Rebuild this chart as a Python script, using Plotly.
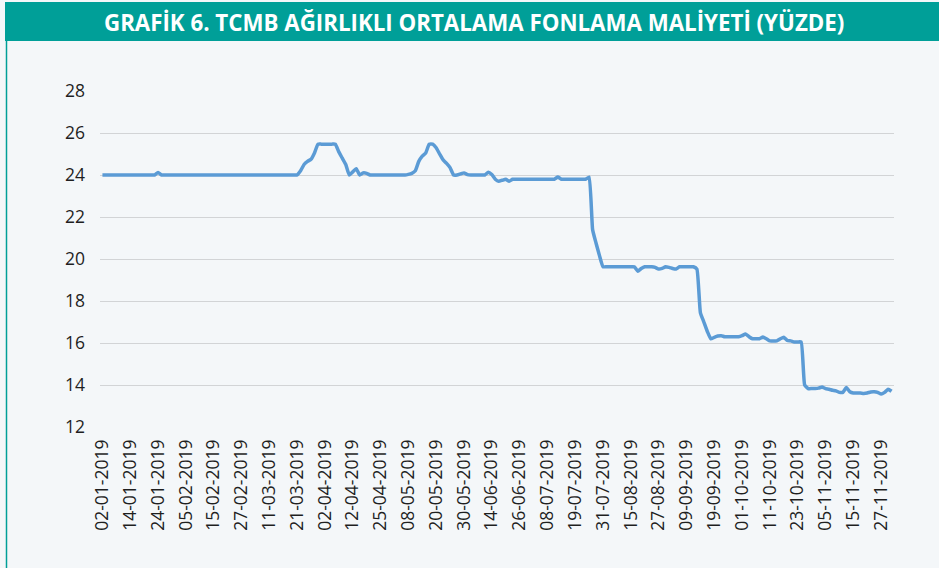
import plotly.graph_objects as go
import pandas as pd

# ---------------- data ----------------
HOLIDAYS = ["2019-01-01", "2019-04-23", "2019-05-01", "2019-06-05", "2019-06-06",
            "2019-06-07", "2019-07-15", "2019-08-12", "2019-08-13", "2019-08-14",
            "2019-08-30", "2019-10-29"]

jan = [24.0, 24.0, 24.0, 24.0, 24.0, 24.0, 24.0, 24.0, 24.0, 24.0, 24.0, 24.0,
       24.0, 24.0, 24.0, 24.0, 24.12, 24.0, 24.0, 24.0, 24.0, 24.0]
feb = [24.0, 24.0, 24.0, 24.0, 24.0, 24.0, 24.0, 24.0, 24.0, 24.0, 24.0, 24.0,
       24.0, 24.0, 24.0, 24.0, 24.0, 24.0, 24.0, 24.0]
mar = [24.0, 24.0, 24.0, 24.0, 24.0, 24.0, 24.0, 24.0, 24.0, 24.0, 24.0, 24.0,
       24.0, 24.0, 24.0, 24.2, 24.5, 24.65, 24.75, 25.05, 25.47]
apr = [25.47, 25.47, 25.47, 25.47, 25.47, 25.1, 24.8, 24.5, 24.0, 24.15, 24.3,
       24.0, 24.1, 24.08, 24.0, 24.0, 24.0, 24.0, 24.0, 24.0, 24.0]
may = [24.0, 24.0, 24.0, 24.0, 24.03, 24.08, 24.2, 24.65, 24.9, 25.05, 25.47,
       25.47, 25.3, 25.0, 24.72, 24.55, 24.35, 24.0, 24.0, 24.05, 24.1, 24.02]
jun = [24.0, 24.0, 24.0, 24.0, 24.0, 24.13, 24.02, 23.8, 23.7, 23.75, 23.8, 23.7,
       23.8, 23.8, 23.8, 23.8, 23.8]
jul = [23.8, 23.8, 23.8, 23.8, 23.8, 23.8, 23.8, 23.8, 23.9, 23.8, 23.8, 23.8,
       23.8, 23.8, 23.8, 23.8, 23.8, 23.9, 21.4, 20.75, 20.15, 19.63]
aug = [19.63, 19.63, 19.63, 19.63, 19.63, 19.63, 19.63, 19.63, 19.63, 19.42,
       19.55, 19.63, 19.63, 19.63, 19.6, 19.52, 19.55, 19.63]
sep = [19.6, 19.55, 19.52, 19.63, 19.63, 19.63, 19.63, 19.63, 19.52, 17.45, 17.0,
       16.55, 16.2, 16.27, 16.33, 16.35, 16.3, 16.3, 16.3, 16.3, 16.3]
oct_ = [16.35, 16.43, 16.3, 16.2, 16.2, 16.2, 16.28, 16.2, 16.1, 16.1, 16.1, 16.2,
        16.27, 16.12, 16.1, 16.05, 16.05, 16.05, 14.0, 13.83, 13.83, 13.83]
nov = [13.85, 13.9, 13.83, 13.8, 13.75, 13.72, 13.65, 13.65, 13.88, 13.68, 13.62,
       13.62, 13.62, 13.6, 13.62, 13.67, 13.68, 13.65, 13.57, 13.65, 13.8]
dec = [13.7]

TICK_LABELS = ["02-01-2019", "14-01-2019", "24-01-2019", "05-02-2019", "15-02-2019",
               "27-02-2019", "11-03-2019", "21-03-2019", "02-04-2019", "12-04-2019",
               "25-04-2019", "08-05-2019", "20-05-2019", "30-05-2019", "14-06-2019",
               "26-06-2019", "08-07-2019", "19-07-2019", "31-07-2019", "15-08-2019",
               "27-08-2019", "09-09-2019", "19-09-2019", "01-10-2019", "11-10-2019",
               "23-10-2019", "05-11-2019", "15-11-2019", "27-11-2019"]
Y_TICKS = [12, 14, 16, 18, 20, 22, 24, 26, 28]
TITLE = "GRAFİK 6. TCMB AĞIRLIKLI ORTALAMA FONLAMA MALİYETİ (YÜZDE)"

days = pd.bdate_range("2019-01-02", "2019-12-02", freq="C", holidays=HOLIDAYS)
dates = [d.strftime("%d-%m-%Y") for d in days]
values = jan + feb + mar + apr + may + jun + jul + aug + sep + oct_ + nov + dec

# ---------------- layout helpers ----------------
W, H = 939, 568
L, R, T, B = 100, 45, 91, 141
TEAL = "#009F98"
BG = "#F4F7F9"


def px_x(p):
    return (p - L) / (W - L - R)


def px_y(p):
    return (H - B - p) / (H - T - B)


fig = go.Figure()
fig.add_trace(go.Scatter(
    x=dates, y=values, mode="lines",
    line=dict(color="#5B9BD5", width=3.5, shape="spline", smoothing=0.4),
    hoverinfo="x+y", showlegend=False, cliponaxis=False,
))

tickfont = dict(family="Open Sans, Noto Sans, sans-serif", size=17.5, color="#1F1F1F")

fig.update_layout(
    width=W, height=H,
    margin=dict(l=L, r=R, t=T, b=B, autoexpand=False),
    paper_bgcolor=BG, plot_bgcolor=BG,
    xaxis=dict(
        type="category", range=[-0.7, len(dates) - 1 + 0.7],
        tickmode="array", tickvals=TICK_LABELS, ticktext=TICK_LABELS,
        tickangle=-90, tickfont=tickfont, showgrid=False, showline=False,
        zeroline=False, ticks="", ticklabelstandoff=8, fixedrange=True,
    ),
    yaxis=dict(
        range=[12, 28], tickmode="array", tickvals=Y_TICKS,
        ticktext=[str(v) for v in Y_TICKS], tickfont=tickfont,
        showgrid=True, gridcolor="#D2D4D6", gridwidth=1.3,
        zeroline=False, showline=False, ticks="", ticklabelstandoff=14,
        fixedrange=True,
    ),
    shapes=[
        dict(type="rect", xref="paper", yref="paper",
             x0=px_x(5), x1=px_x(W + 2), y0=px_y(41), y1=px_y(2),
             fillcolor=TEAL, line=dict(width=0), layer="below"),
        dict(type="line", xref="paper", yref="paper",
             x0=px_x(6.5), x1=px_x(6.5), y0=px_y(H + 2), y1=px_y(41),
             line=dict(color=TEAL, width=1.5)),
    ],
    annotations=[
        dict(text=TITLE, xref="paper", yref="paper",
             x=px_x(474), y=px_y(22), xanchor="center", yanchor="middle",
             showarrow=False,
             font=dict(family="Open Sans, Noto Sans, sans-serif", size=22.3,
                       color="white", weight="bold")),
    ],
)

fig.write_html(
    "out.html",
    config={"displayModeBar": False, "staticPlot": False},
    post_script="document.body.style.margin='0px';document.body.style.background='%s';" % BG,
)
